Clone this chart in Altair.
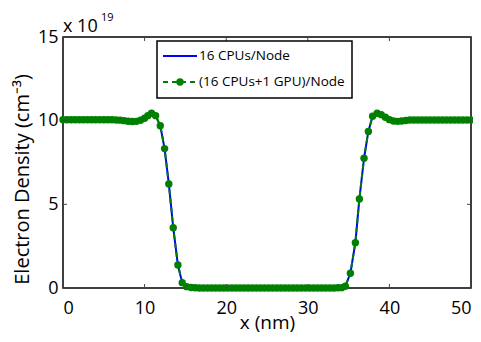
import altair as alt
import pandas as pd

# Electron density profile (values in units of 1e19 cm^-3)
x_nm = [0.0, 0.5, 1.0, 1.5, 2.0, 2.5, 3.0, 3.5, 4.0, 4.5, 5.0, 5.5, 6.0, 6.5,
        7.0, 7.5, 8.0, 8.5, 9.0, 9.5, 10.0, 10.4, 10.85, 11.35, 11.92, 12.45,
        12.97, 13.51, 14.08, 14.61, 15.15, 15.7, 16.2,
        16.7, 17.2, 17.7, 18.2, 18.7, 19.2, 19.7, 20.2, 20.7, 21.2, 21.7, 22.2,
        22.7, 23.2, 23.7, 24.2, 24.7, 25.2, 25.7, 26.2, 26.7, 27.2, 27.7, 28.2,
        28.7, 29.2, 29.7, 30.2, 30.7, 31.2, 31.7, 32.2, 32.7, 33.2, 33.7,
        34.15, 34.6, 35.22, 35.83, 36.32, 36.89, 37.42, 37.94, 38.5, 39.0,
        39.5, 40.0, 40.5, 41.0, 41.5, 42.0,
        42.5, 43.0, 43.5, 44.0, 44.5, 45.0, 45.5, 46.0, 46.5, 47.0, 47.5, 48.0,
        48.5, 49.0, 49.5, 50.0]
density = [10.05, 10.05, 10.05, 10.05, 10.05, 10.05, 10.05, 10.05, 10.05, 10.05,
           10.05, 10.05, 10.05, 10.04,
           10.03, 10.0, 9.97, 9.95, 9.96, 10.02, 10.14, 10.3, 10.44, 10.3, 9.7, 8.33,
           6.22, 3.6, 1.37, 0.32, 0.08, 0.03, 0.01,
           0.0, 0.0, 0.0, 0.0, 0.0, 0.0, 0.0, 0.0, 0.0, 0.0, 0.0, 0.0,
           0.0, 0.0, 0.0, 0.0, 0.0, 0.0, 0.0, 0.0, 0.0, 0.0, 0.0, 0.0,
           0.0, 0.0, 0.0, 0.0, 0.0, 0.0, 0.0, 0.0, 0.0, 0.0, 0.01,
           0.02, 0.1, 0.88, 2.71, 5.32, 7.75, 9.36, 10.26, 10.44, 10.36,
           10.2, 10.06, 9.98, 9.96, 9.98, 10.01,
           10.04, 10.04, 10.04, 10.04, 10.04, 10.04, 10.04, 10.04, 10.04, 10.04,
           10.04, 10.04, 10.04, 10.04, 10.04, 10.04]
series_names = ["16 CPUs/Node", "(16 CPUs+1 GPU)/Node"]
x_ticks = [0, 10, 20, 30, 40, 50]
y_ticks = [0, 5, 10, 15]

W, H = 408, 251
FONT = "Open Sans"
BLUE = "#0000ff"
GREEN = "#008000"

df = pd.DataFrame({"x": x_nm, "y": density})
xt = pd.DataFrame({"x": x_ticks})
yt = pd.DataFrame({"y": y_ticks})

xenc = alt.X("x:Q", scale=alt.Scale(domain=[0, 50], nice=False, zero=False),
             axis=alt.Axis(values=x_ticks, title="x (nm)", labelPadding=11,
                           titleY=40, titleBaseline="alphabetic"))
yenc = alt.Y("y:Q", scale=alt.Scale(domain=[0, 15], nice=False),
             axis=alt.Axis(values=y_ticks, title="Electron Density (cm⁻³)",
                           labelPadding=5, titlePadding=5, titleY=142,
                           titleFontSize=20))

blue = alt.Chart(df).mark_line(color=BLUE, strokeWidth=2).encode(x=xenc, y=yenc)
green = alt.Chart(df).mark_line(
    color=GREEN, strokeWidth=2, strokeDash=[5, 4],
    point=alt.OverlayMarkDef(filled=True, color=GREEN, size=55, opacity=1)
).encode(x=xenc, y=yenc)

tick_style = dict(color="#444444", strokeWidth=1)
xt_bot = alt.Chart(xt).mark_rule(**tick_style).encode(
    x=xenc, y=alt.value(H), y2=alt.value(H - 4))
xt_top = alt.Chart(xt).mark_rule(**tick_style).encode(
    x=xenc, y=alt.value(0), y2=alt.value(4))
yt_left = alt.Chart(yt).mark_rule(**tick_style).encode(
    y=yenc, x=alt.value(0), x2=alt.value(4))
yt_right = alt.Chart(yt).mark_rule(**tick_style).encode(
    y=yenc, x=alt.value(W), x2=alt.value(W - 4))

# exponent label
exp_base = alt.Chart(pd.DataFrame({"t": ["x 10"]})).mark_text(
    font=FONT, fontSize=18, align="left", baseline="alphabetic", color="black"
).encode(text="t:N", x=alt.value(0), y=alt.value(-5))
exp_pow = alt.Chart(pd.DataFrame({"t": ["19"]})).mark_text(
    font=FONT, fontSize=11, align="left", baseline="alphabetic", color="black"
).encode(text="t:N", x=alt.value(38), y=alt.value(-16))

# legend
leg_df = pd.DataFrame({"name": series_names})
leg_box = alt.Chart(leg_df.iloc[:1]).mark_rect(
    fill="white", stroke="black", strokeWidth=1.5
).encode(x=alt.value(94), x2=alt.value(289), y=alt.value(4), y2=alt.value(61))
leg_l1 = alt.Chart(leg_df.iloc[:1]).mark_rule(color=BLUE, strokeWidth=2).encode(
    x=alt.value(100), x2=alt.value(134), y=alt.value(19))
leg_l2 = alt.Chart(leg_df.iloc[1:]).mark_rule(
    color=GREEN, strokeWidth=2, strokeDash=[5, 4]).encode(
    x=alt.value(100), x2=alt.value(134), y=alt.value(45))
leg_p2 = alt.Chart(leg_df.iloc[1:]).mark_point(
    filled=True, color=GREEN, size=55, opacity=1).encode(
    x=alt.value(117), y=alt.value(45))
leg_t1 = alt.Chart(leg_df.iloc[:1]).mark_text(
    font=FONT, fontSize=13.5, align="left", baseline="middle", color="black"
).encode(text="name:N", x=alt.value(136), y=alt.value(19))
leg_t2 = alt.Chart(leg_df.iloc[1:]).mark_text(
    font=FONT, fontSize=13.5, align="left", baseline="middle", color="black"
).encode(text="name:N", x=alt.value(136), y=alt.value(45))

chart = alt.layer(
    blue, green, xt_bot, xt_top, yt_left, yt_right, exp_base, exp_pow,
    leg_box, leg_l1, leg_l2, leg_p2, leg_t1, leg_t2
).properties(
    width=W, height=H,
    background="white",
    autosize=alt.AutoSizeParams(type="none"),
    padding={"left": 55, "top": 29, "right": 2, "bottom": 46},
).configure_view(
    stroke="black", strokeWidth=1.5
).configure_axis(
    ticks=False, domain=False, grid=False,
    labelFont=FONT, labelFontSize=18, labelColor="black",
    titleFont=FONT, titleFontSize=19, titleFontWeight="normal", titleColor="black",
)

chart.save("out.html", embed_options={"renderer": "svg", "actions": False})
